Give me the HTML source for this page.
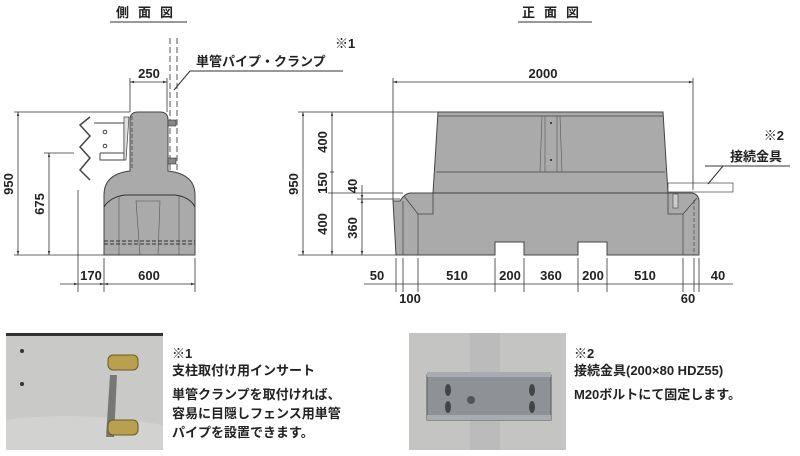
<!DOCTYPE html>
<html><head><meta charset="utf-8"><style>
body{margin:0;background:#fff}
svg{display:block;font-family:"Liberation Sans","Noto Sans CJK JP",sans-serif}
.d{stroke:#333;stroke-width:0.8;fill:none}
.t{font-size:13px;font-weight:bold;fill:#222}
</style></head><body>
<svg width="800" height="456" viewBox="0 0 800 456" xmlns="http://www.w3.org/2000/svg">
<defs><marker id="a" viewBox="0 0 10 10" refX="10" refY="5" markerWidth="7" markerHeight="5" orient="auto-start-reverse"><path d="M0,2L10,5L0,8z" fill="#333"/></marker></defs>

<!-- titles -->
<text x="149" y="17" class="t" text-anchor="middle" letter-spacing="9">側面図</text>
<line x1="110" y1="22" x2="187" y2="22" stroke="#333"/>
<text x="555" y="17" class="t" text-anchor="middle" letter-spacing="9">正面図</text>
<line x1="518" y1="22" x2="592" y2="22" stroke="#333"/>

<!-- SIDE VIEW -->
<line x1="170" y1="38" x2="170" y2="170" stroke="#555" stroke-dasharray="6,3"/>
<line x1="177" y1="38" x2="177" y2="170" stroke="#555" stroke-dasharray="6,3"/>
<text x="335" y="48" class="t">※1</text>
<text x="196" y="66" class="t">単管パイプ・クランプ</text>
<line x1="190" y1="71" x2="343" y2="71" stroke="#333"/>
<line x1="190" y1="71" x2="174" y2="90" stroke="#333"/>
<!-- guardrail -->
<path d="M90,117 L80,125 L90,136 L80,147 L90,158 L80,170 L90,180" fill="none" stroke="#444" stroke-width="1.5"/>
<path d="M94,123 L124,123 L124,153 L100,153" fill="#fff" stroke="#444"/>
<path d="M100,153 L100,160 L124,160 L124,153" fill="none" stroke="#444"/>
<circle cx="105" cy="132" r="1.8" fill="none" stroke="#444"/><circle cx="105" cy="146" r="1.8" fill="none" stroke="#444"/>
<path d="M124,117 L129,117 L126,160 L124,160z" fill="#ddd" stroke="#444" stroke-width="0.7"/>
<!-- block -->
<path d="M130,120 Q130,112 138,112 L160,112 Q168,112 168,120 L168,171 Q195,174 195,195 L195,255 L104,255 L104,195 Q104,174 130,171z" fill="#aaa" stroke="#444"/>
<path d="M104,207 Q110,197 125,195 L175,195 Q190,197 195,207" fill="none" stroke="#333"/>
<line x1="119" y1="196" x2="119" y2="255" stroke="#555" stroke-width="0.6"/>
<line x1="179" y1="196" x2="179" y2="255" stroke="#555" stroke-width="0.6"/>
<path d="M136,201 L160,201 L158,255 L140,255z" fill="none" stroke="#555" stroke-width="0.6"/>
<line x1="104" y1="241" x2="195" y2="241" stroke="#333" stroke-dasharray="4,2"/>
<line x1="104" y1="244" x2="195" y2="244" stroke="#333" stroke-dasharray="4,2"/>
<line x1="132" y1="116" x2="132" y2="168" stroke="#555" stroke-dasharray="4,2"/>
<rect x="168" y="120" width="8" height="6" fill="#888" stroke="#333" stroke-width="0.6"/>
<rect x="168" y="158" width="8" height="6" fill="#888" stroke="#333" stroke-width="0.6"/>
<!-- side dims -->
<line x1="14" y1="112" x2="130" y2="112" class="d"/>
<line x1="14" y1="255" x2="104" y2="255" class="d"/>
<line x1="18" y1="112" x2="18" y2="255" class="d" marker-start="url(#a)" marker-end="url(#a)"/>
<text transform="translate(13,184) rotate(-90)" class="t" text-anchor="middle">950</text>
<line x1="44" y1="153" x2="74" y2="153" class="d"/>
<line x1="49" y1="153" x2="49" y2="255" class="d" marker-start="url(#a)" marker-end="url(#a)"/>
<text transform="translate(44,204) rotate(-90)" class="t" text-anchor="middle">675</text>
<line x1="130" y1="78" x2="130" y2="112" class="d"/>
<line x1="167" y1="78" x2="167" y2="112" class="d"/>
<line x1="130" y1="82" x2="167" y2="82" class="d" marker-start="url(#a)" marker-end="url(#a)"/>
<text x="149" y="78" class="t" text-anchor="middle">250</text>
<line x1="78" y1="190" x2="78" y2="292" class="d"/>
<line x1="104" y1="258" x2="104" y2="292" class="d"/>
<line x1="195" y1="258" x2="195" y2="292" class="d"/>
<line x1="60" y1="284" x2="78" y2="284" class="d" marker-end="url(#a)"/>
<line x1="78" y1="284" x2="104" y2="284" class="d" marker-end="url(#a)"/>
<line x1="104" y1="284" x2="195" y2="284" class="d" marker-start="url(#a)" marker-end="url(#a)"/>
<text x="91" y="280" class="t" text-anchor="middle">170</text>
<text x="149" y="280" class="t" text-anchor="middle">600</text>

<!-- FRONT VIEW -->
<path d="M438,112 L663,112 L668,193 L433,193z" fill="#aaa" stroke="#444"/>
<line x1="438" y1="116" x2="663" y2="116" stroke="#444" stroke-width="0.7"/>
<line x1="436" y1="172" x2="665" y2="172" stroke="#444" stroke-width="0.7"/>
<path d="M542,116 L540,172 M560,116 L562,172 M545,116 L545,172 M557,116 L557,172" stroke="#555" stroke-width="0.6"/>
<circle cx="551" cy="123" r="1" fill="#222"/><circle cx="551" cy="160" r="1" fill="#222"/>
<path d="M393,201 L400,201 Q404,194 410,193 L692,193 Q698,194 699,200 L699,255 L607,255 L607,242 L578,242 L578,255 L524,255 L524,242 L495,242 L495,255 L396,255z" fill="#aaa" stroke="#444"/>
<path d="M404,196 L418,214 L433,214 L433,193" fill="none" stroke="#444" stroke-width="0.8"/>
<path d="M697,198 L683,214 L668,214 L668,193" fill="none" stroke="#444" stroke-width="0.8"/>
<line x1="403" y1="201" x2="403" y2="255" stroke="#444" stroke-width="0.7"/>
<line x1="418" y1="214" x2="418" y2="255" stroke="#444" stroke-width="0.7"/>
<line x1="683" y1="214" x2="683" y2="255" stroke="#444" stroke-width="0.7"/>
<line x1="694" y1="200" x2="694" y2="255" stroke="#444" stroke-dasharray="4,2" stroke-width="0.7"/>
<rect x="673" y="194" width="5" height="14" fill="#ccc" stroke="#444" stroke-width="0.6"/>
<rect x="668" y="183" width="65" height="9" fill="#fff" stroke="#444" stroke-width="0.7"/>
<text x="784" y="140" class="t" text-anchor="end">※2</text>
<text x="730" y="161" class="t">接続金具</text>
<line x1="705" y1="166" x2="790" y2="166" stroke="#333"/>
<line x1="723" y1="166" x2="708" y2="184" stroke="#333"/>
<!-- front dims -->
<line x1="393" y1="78" x2="393" y2="201" class="d"/>
<line x1="693" y1="78" x2="693" y2="190" class="d"/>
<line x1="393" y1="82" x2="693" y2="82" class="d" marker-start="url(#a)" marker-end="url(#a)"/>
<text x="543" y="78" class="t" text-anchor="middle">2000</text>
<line x1="298" y1="112" x2="438" y2="112" class="d"/>
<line x1="298" y1="255" x2="396" y2="255" class="d"/>
<line x1="328" y1="193" x2="403" y2="193" class="d"/>
<line x1="357" y1="199" x2="400" y2="199" class="d"/>
<line x1="303" y1="112" x2="303" y2="255" class="d" marker-start="url(#a)" marker-end="url(#a)"/>
<text transform="translate(298,184) rotate(-90)" class="t" text-anchor="middle">950</text>
<line x1="332" y1="112" x2="332" y2="255" class="d" marker-start="url(#a)" marker-end="url(#a)"/>
<line x1="330" y1="172" x2="334" y2="172" class="d"/>
<text transform="translate(327,142) rotate(-90)" class="t" text-anchor="middle">400</text>
<text transform="translate(327,183) rotate(-90)" class="t" text-anchor="middle">150</text>
<text transform="translate(327,224) rotate(-90)" class="t" text-anchor="middle">400</text>
<line x1="362" y1="185" x2="362" y2="199" class="d" marker-end="url(#a)"/>
<line x1="362" y1="199" x2="362" y2="255" class="d" marker-start="url(#a)" marker-end="url(#a)"/>
<text transform="translate(357,186) rotate(-90)" class="t" text-anchor="middle">40</text>
<text transform="translate(357,228) rotate(-90)" class="t" text-anchor="middle">360</text>
<g class="d">
<line x1="396" y1="258" x2="396" y2="292"/><line x1="403" y1="258" x2="403" y2="292"/><line x1="418" y1="258" x2="418" y2="292"/>
<line x1="495" y1="258" x2="495" y2="292"/><line x1="524" y1="258" x2="524" y2="292"/><line x1="578" y1="258" x2="578" y2="292"/>
<line x1="607" y1="258" x2="607" y2="292"/><line x1="683" y1="258" x2="683" y2="292"/><line x1="694" y1="258" x2="694" y2="292"/><line x1="699" y1="258" x2="699" y2="292"/>
<line x1="364" y1="284" x2="733" y2="284"/>
</g>
<text x="377" y="280" class="t" text-anchor="middle">50</text>
<text x="410" y="303" class="t" text-anchor="middle">100</text>
<text x="457" y="280" class="t" text-anchor="middle">510</text>
<text x="510" y="280" class="t" text-anchor="middle">200</text>
<text x="551" y="280" class="t" text-anchor="middle">360</text>
<text x="593" y="280" class="t" text-anchor="middle">200</text>
<text x="645" y="280" class="t" text-anchor="middle">510</text>
<text x="688" y="303" class="t" text-anchor="middle">60</text>
<text x="718" y="280" class="t" text-anchor="middle">40</text>

<!-- photos -->
<rect x="6" y="333" width="157" height="117" fill="#c9c9c7"/>
<rect x="6" y="333" width="157" height="3" fill="#333"/>
<path d="M6,420 Q80,410 163,425 L163,450 L6,450z" fill="#d2d2d0"/>
<circle cx="22" cy="351" r="2" fill="#333"/><circle cx="22" cy="384" r="2" fill="#333"/>
<path d="M110,375 L117,375 L114,437 L106,437z" fill="#777"/>
<rect x="108" y="355" width="30" height="15" rx="5" fill="#b8a050" stroke="#6a5a20"/>
<rect x="108" y="420" width="30" height="15" rx="5" fill="#b8a050" stroke="#6a5a20"/>
<rect x="409" y="333" width="157" height="117" fill="#c4c4c2"/>
<path d="M470,333 L500,333 L500,450 L470,450z" fill="#bbb"/>
<rect x="427" y="375" width="124" height="45" fill="#8e9296" stroke="#555"/>
<rect x="427" y="372" width="124" height="5" fill="#a8acb0"/>
<rect x="427" y="415" width="124" height="5" fill="#a8acb0"/>
<ellipse cx="448" cy="390" rx="3" ry="6" fill="#444"/><ellipse cx="532" cy="390" rx="3" ry="6" fill="#444"/>
<ellipse cx="448" cy="407" rx="3" ry="6" fill="#444"/><ellipse cx="532" cy="407" rx="3" ry="6" fill="#444"/>
<circle cx="471" cy="400" r="4" fill="#555"/>

<text x="172" y="358" class="t">※1</text>
<text x="172" y="375" class="t">支柱取付け用インサート</text>
<text x="172" y="399" class="t">単管クランプを取付ければ、</text>
<text x="172" y="418" class="t">容易に目隠しフェンス用単管</text>
<text x="172" y="437" class="t">パイプを設置できます。</text>
<text x="574" y="358" class="t">※2</text>
<text x="574" y="375" class="t" font-size="12">接続金具(200×80 HDZ55)</text>
<text x="574" y="399" class="t">M20ボルトにて固定します。</text>
</svg>
</body></html>
